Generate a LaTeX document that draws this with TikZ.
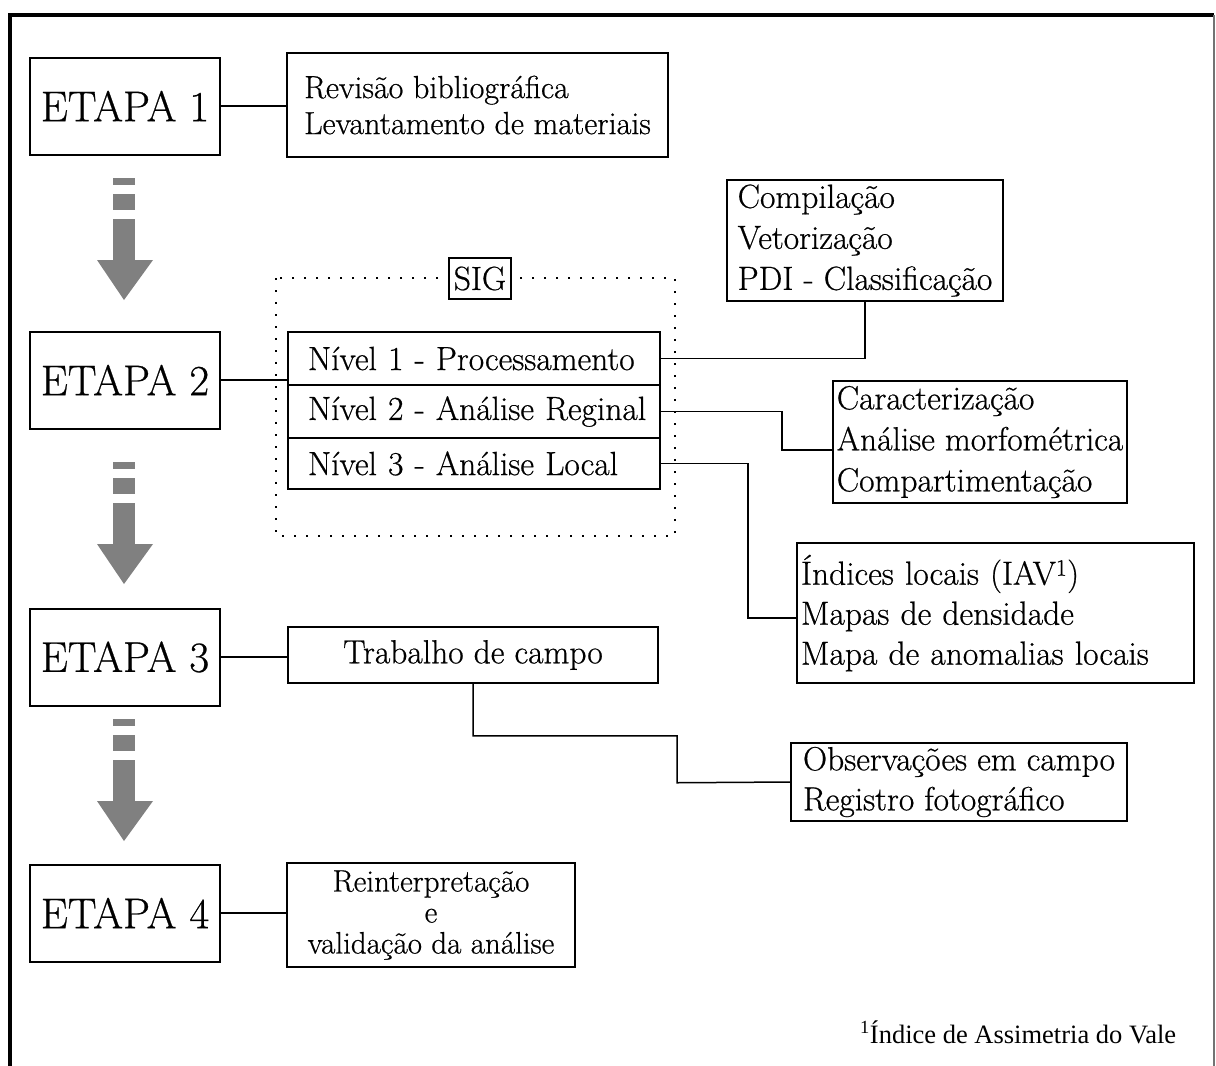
\documentclass[tikz,border=0pt]{standalone}
\usepackage{fontspec}
\setmainfont{lmroman17-regular.otf}[RawFeature={embolden=0.6}]
\newfontfamily\notefont{Liberation Serif}

\begin{document}
\begin{tikzpicture}[x=1pt, y=-1pt,
  etapa/.style={draw, line width=2pt, minimum width=190, minimum height=97, inner sep=0pt, font=\fontsize{43}{46}\selectfont},
  caixa/.style={draw, line width=1.5pt, inner sep=0pt, align=left, font=\fontsize{33.5}{41}\selectfont},
  nivel/.style={draw, line width=1.5pt, minimum width=372, inner xsep=20pt, inner ysep=0pt, text width=332, align=left, font=\fontsize{33.5}{41}\selectfont},
  liga/.style={line width=1.5pt},
  seta/.style={fill=black!50},
]
\useasboundingbox (0,0) rectangle (1216,1066);

% ========== moldura ==========
\draw[line width=3.5pt] (10,1066) -- (10,15) -- (1214,15);
\draw[black!55, line width=1.2pt] (1214,15) -- (1214,1066);

% ========== etapas ==========
\node[etapa] (etapa1) at (125,106) {ETAPA 1};
\node[etapa] (etapa2) at (125,380) {ETAPA 2};
\node[etapa] (etapa3) at (125,657) {ETAPA 3};
\node[etapa] (etapa4) at (125,913) {ETAPA 4};

% setas cinzas entre as etapas
\foreach \t in {178,462,719} {
  \fill[seta] (113,\t) rectangle (135,{\t+7});
  \fill[seta] (113,{\t+16}) rectangle (135,{\t+32});
  \fill[seta] (113,{\t+41}) rectangle (135,{\t+82});
  \fill[seta] (97,{\t+82}) -- (153,{\t+82}) -- (124,{\t+122}) -- cycle;
}

% ========== etapa 1 ==========
\node[caixa, minimum width=381, minimum height=104, font=\fontsize{32}{36}\selectfont] (revisao) at (477.5,105)
  {Revisão bibliográfica\\Levantamento de materiais};

% ========== etapa 2: SIG ==========
\draw[line width=1.5pt, dash pattern=on 2pt off 10pt] (276,278) rectangle (675,536);
\node[draw, fill=white, line width=1.5pt, minimum width=62, minimum height=41, inner sep=0pt,
  font=\fontsize{33.5}{36}\selectfont] (sig) at (480,278.5) {SIG};

\node[nivel, minimum height=53] (nivel1) at (474,358.5) {\mbox{Nível 1 - Processamento}};
\node[nivel, minimum height=53] (nivel2) at (474,411.5) {\mbox{Nível 2 - Análise Reginal}};
\node[nivel, minimum height=51] (nivel3) at (474,463.5) {\mbox{Nível 3 - Análise Local}};

\node[caixa, minimum width=276, minimum height=121] (compila) at (865,240.5)
  {Compilação\\Vetorização\\PDI - Classificação};
\node[caixa, minimum width=294, minimum height=122] (caracter) at (980,442)
  {Caracterização\\Análise morfométrica\\Compartimentação};
\node[caixa, minimum width=397, minimum height=140, text width=389, inner xsep=4pt, font=\fontsize{33.5}{40}\selectfont] (indices) at (995.5,613)
  {Índices locais (IAV\textsuperscript{1})\\Mapas de densidade\\Mapa de anomalias locais};

% ========== etapa 3 ==========
\node[caixa, align=center, minimum width=370, minimum height=56] (campo) at (473,655) {Trabalho de campo};
\node[caixa, minimum width=336, minimum height=78, font=\fontsize{33.5}{40}\selectfont] (observa) at (959,782)
  {Observações em campo\\Registro fotográfico};

% ========== etapa 4 ==========
\node[caixa, align=center, minimum width=288, minimum height=104, font=\fontsize{31}{31}\selectfont] (reinterp) at (431,915)
  {Reinterpretação\\e\\validação da análise};

% ========== ligacoes ==========
\draw[liga] (etapa1.east) -- (etapa1.east -| revisao.west);
\draw[liga] (etapa2.east) -- (etapa2.east -| nivel1.west);
\draw[liga] (etapa3.east) -- (etapa3.east -| campo.west);
\draw[liga] (etapa4.east) -- (etapa4.east -| reinterp.west);

\draw[liga] (nivel1.east) -| (compila.south);
\draw[liga] (nivel2.east) -- ++(121,0) |- ([yshift=-8pt]caracter.west);
\draw[liga] (nivel3.east) -- ++(87,0) |- ([yshift=-5pt]indices.west);
\draw[liga] (campo.south) -- ++(0,52) -| ++(204,47) -- (observa.west);

% nota
\node[anchor=base west, inner sep=0pt, font=\notefont\fontsize{26.5}{30}\selectfont] (nota) at (860,1043)
  {\textsuperscript{1}Índice de Assimetria do Vale};
\end{tikzpicture}
\end{document}
